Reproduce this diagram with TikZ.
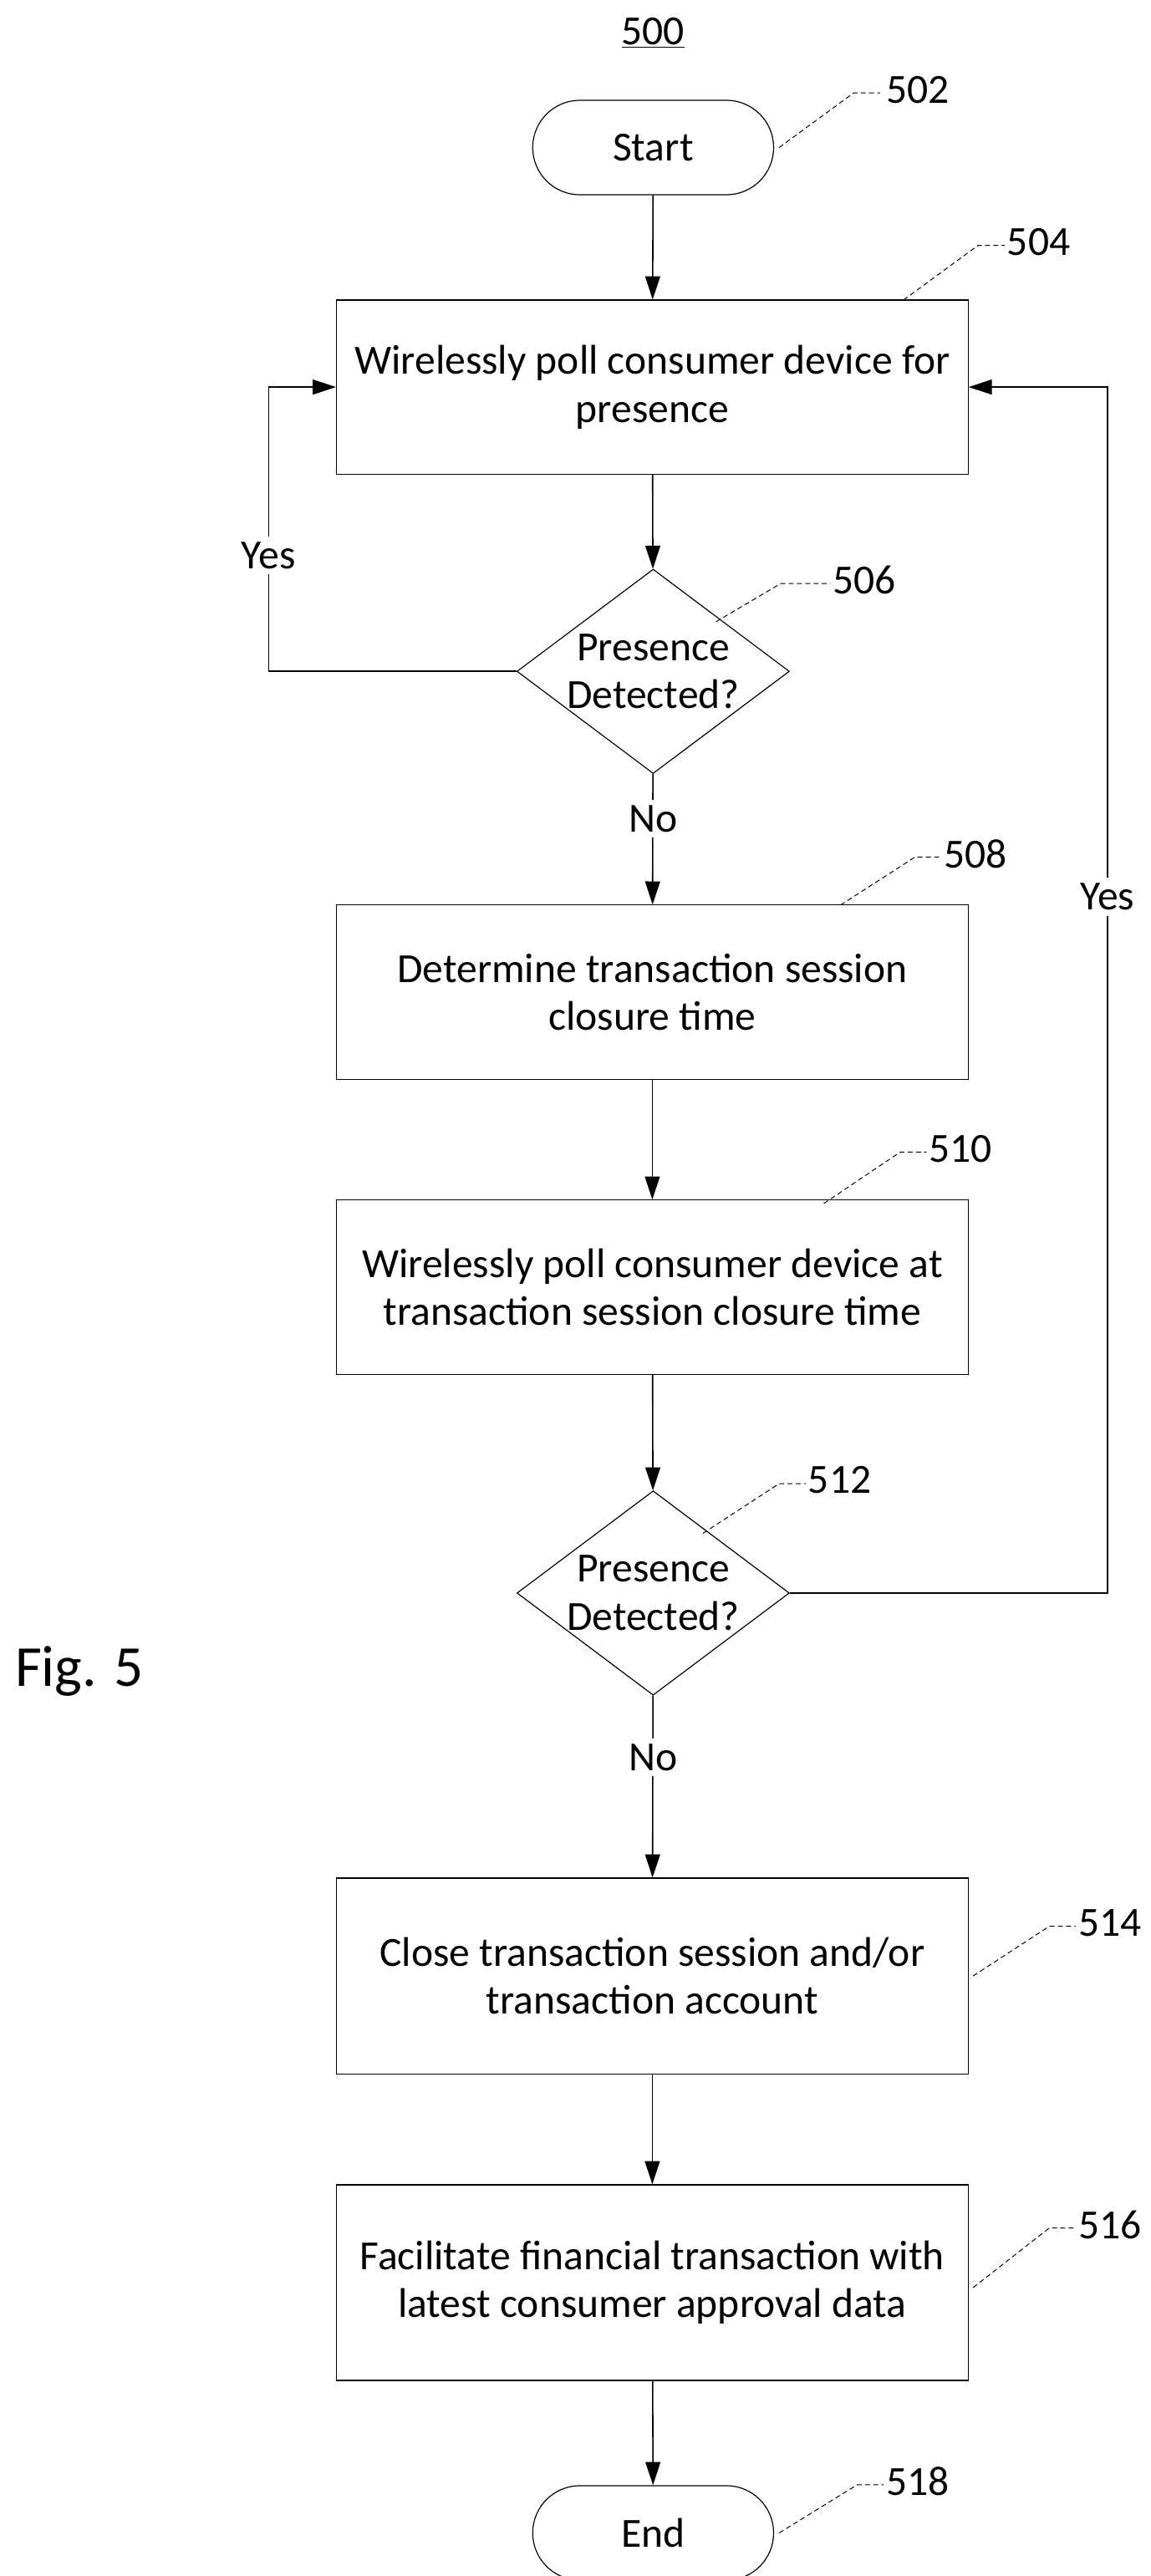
\documentclass[tikz,border=0pt]{standalone}
\usepackage{fontspec}
\setmainfont{Carlito}
\usetikzlibrary{shapes.geometric,shapes.misc,arrows.meta}
\begin{document}
\begin{tikzpicture}[x=1pt,y=-1pt,
  txt/.style={font=\fontsize{25}{29}\selectfont},
  box/.style={draw,line width=0.6pt,minimum width=381pt,minimum height=105pt,align=center,txt,inner sep=0pt},
  term/.style={draw,line width=0.6pt,rounded rectangle,minimum width=152pt,minimum height=57pt,txt},
  dec/.style={draw,line width=0.6pt,diamond,aspect=1.333,minimum width=152pt,minimum height=114pt,inner sep=0pt,align=center,txt},
  arr/.style={line width=0.8pt,-{Triangle[length=14pt,width=9pt]}},
  lead/.style={line width=0.5pt,densely dashed},
  ref/.style={txt,anchor=west}]
\useasboundingbox (0,0) rectangle (694,1554);
\node[txt] (title) at (394,20) {\underline{500}};
\node[font=\fontsize{35}{40}\selectfont] (fig) at (48,1008) {Fig. 5};
\node[term] (s) at (394,89) {Start};
\node[box] (b504) at (393.5,233.5) {Wirelessly poll consumer device for\\presence};
\node[dec] (d506) at (394,405) {Presence\\Detected?};
\node[box] (b508) at (393.5,598.5) {Determine transaction session\\closure time};
\node[box] (b510) at (393.5,776.5) {Wirelessly poll consumer device at\\transaction session closure time};
\node[dec] (d512) at (394,961) {Presence\\Detected?};
\node[box,minimum height=118pt] (b514) at (393.5,1192) {Close transaction session and/or\\transaction account};
\node[box,minimum height=118pt] (b516) at (393.5,1377) {Facilitate financial transaction with\\latest consumer approval data};
\node[term] (e) at (394,1528) {End};
% arrows
\draw[arr] (s) -- (b504);
\draw[arr] (b504) -- (d506);
\draw[arr] (d506) -- (b508);
\draw[arr] (b508) -- (b510);
\draw[arr] (b510) -- (d512);
\draw[arr] (d512) -- (b514);
\draw[arr] (b514) -- (b516);
\draw[arr] (b516) -- (e);
\coordinate (yl) at (162,405);
\coordinate (yr) at (668,961);
\draw[arr] (d506.west) -- (yl) |- (b504.west);
\draw[arr] (d512.east) -- (yr) |- (b504.east);
\node[txt,fill=white] (yes1) at (162,335) {Yes};
\node[txt,fill=white] (yes2) at (668,541) {Yes};
\node[txt,fill=white] (no1) at (394,494) {No};
\node[txt,fill=white] (no2) at (394,1060) {No};
% reference labels
\node[ref] (r502) at (531,54) {502};
\draw[lead] (470,89) -- (515,56) -- (531,56);
\node[ref] (r504) at (604,146) {504};
\draw[lead] (545,181) -- (590,148) -- (606,148);
\node[ref] (r506) at (499,350) {506};
\draw[lead] (432,375) -- (471,352) -- (501,352);
\node[ref] (r508) at (566,515) {508};
\draw[lead] (507,546) -- (552,517) -- (568,517);
\node[ref] (r510) at (557,693) {510};
\draw[lead] (497,726) -- (543,695) -- (559,695);
\node[ref] (r512) at (484,893) {512};
\draw[lead] (424,925) -- (470,895) -- (486,895);
\node[ref] (r514) at (647,1160) {514};
\draw[lead] (587,1192) -- (633,1162) -- (649,1162);
\node[ref] (r516) at (647,1342) {516};
\draw[lead] (587,1380) -- (633,1344) -- (649,1344);
\node[ref] (r518) at (531,1497) {518};
\draw[lead] (470,1528) -- (517,1499) -- (533,1499);
\end{tikzpicture}
\end{document}
